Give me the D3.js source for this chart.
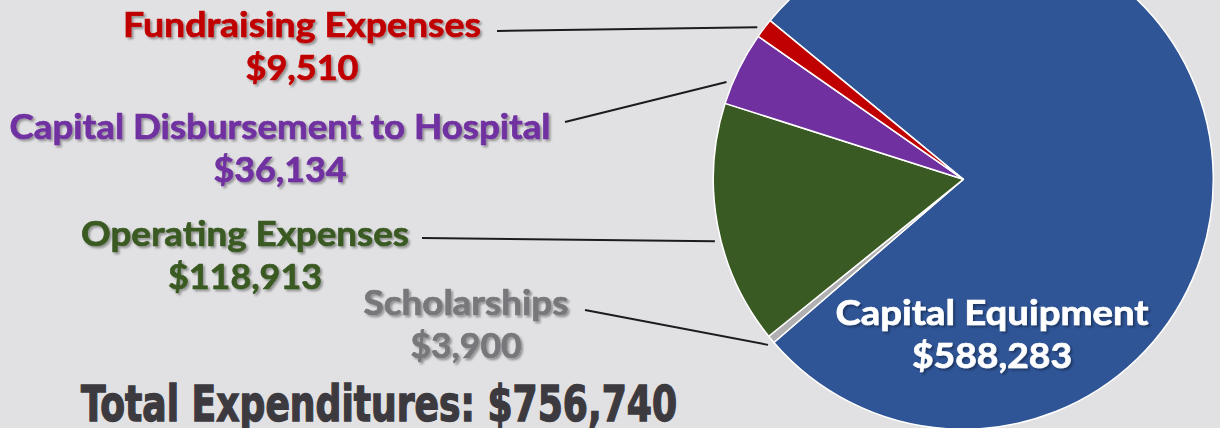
<!DOCTYPE html>
<html>
<head>
<meta charset="utf-8">
<script src="https://cdn.jsdelivr.net/npm/d3@7"></script>
<style>
  html, body { margin: 0; padding: 0; background: #e1e1e3; overflow: hidden; }
  svg { display: block; }
  .lbl { font-family: Lato, "Open Sans", sans-serif; font-weight: 700; }
</style>
</head>
<body>
<svg id="chart"></svg>
<script>
// data
const categories = ['Capital Equipment', 'Scholarships', 'Operating Expenses', 'Capital Disbursement to Hospital', 'Fundraising Expenses'];
const amounts = [588283, 3900, 118913, 36134, 9510];
const sliceColors = ['#2f5597', '#b0b0b2', '#3a5a24', '#7030a0', '#c00000'];
const labelColors = ['#ffffff', '#77777b', '#3a5a24', '#7030a0', '#c00000'];
const totalText = 'Total Expenditures: ';

const width = 1220;
const height = 428;
const cx = 963.3, cy = 179.3, radius = 250;
const startAngle = -50.6 * Math.PI / 180; // first slice angle

// label placement (centre x, first baseline, text widths, leader start, where the leader hits the slice)
const labelLayout = [
  { x: 992, y: 325, w: [313, 160], lead: null },
  { x: 466, y: 315, w: [205, 111], lead: [585, 310], tip: 0.24 },
  { x: 245, y: 246, w: [328, 154], lead: [422, 238], tip: 0.44 },
  { x: 280, y: 139, w: [541, 133], lead: [565, 122], tip: 0.27 },
  { x: 302, y: 37, w: [358, 113], lead: [497, 31], tip: 0.34 }
];

const fmt = d3.format('$,');
const svg = d3.select('#chart').attr('width', width).attr('height', height);

const defs = svg.append('defs');
defs.append('filter').attr('id', 'shadow')
  .attr('x', '-10%').attr('y', '-20%').attr('width', '120%').attr('height', '160%')
  .append('feDropShadow')
  .attr('dx', 2).attr('dy', 2).attr('stdDeviation', 1.3)
  .attr('flood-color', '#000').attr('flood-opacity', 0.35);

svg.append('rect').attr('width', width).attr('height', height).attr('fill', '#e1e1e3');

const color = d3.scaleOrdinal().domain(categories).range(sliceColors);
const pie = d3.pie().sort(null).value(d => d.value)
  .startAngle(startAngle).endAngle(startAngle + 2 * Math.PI);
const arcs = pie(categories.map((c, i) => ({ name: c, value: amounts[i], i: i })));
const arc = d3.arc().innerRadius(0).outerRadius(radius);

const g = svg.append('g').attr('transform', `translate(${cx},${cy})`);

g.selectAll('path.slice')
  .data(arcs)
  .enter()
  .append('path')
  .attr('class', 'slice')
  .attr('d', arc)
  .attr('fill', d => color(d.data.name))
  .attr('stroke', '#ffffff')
  .attr('stroke-width', 1.5)
  .attr('stroke-linejoin', 'round');

// leader lines
arcs.forEach(function (d, i) {
  const L = labelLayout[i];
  if (!L.lead) return;
  const a = d.startAngle + L.tip * (d.endAngle - d.startAngle);
  const r = 256;
  const ex = cx + r * Math.sin(a);
  const ey = cy - r * Math.cos(a);
  svg.append('line')
    .attr('x1', L.lead[0]).attr('y1', L.lead[1])
    .attr('x2', ex).attr('y2', ey)
    .attr('stroke', '#1c1c1c')
    .attr('stroke-width', 2);
});

// labels
arcs.forEach(function (d, i) {
  const L = labelLayout[i];
  const lines = [d.data.name, fmt(d.data.value)];
  lines.forEach(function (t, k) {
    svg.append('text')
      .attr('class', 'lbl')
      .attr('x', L.x)
      .attr('y', L.y + k * 43)
      .attr('text-anchor', 'middle')
      .attr('font-size', 35)
      .attr('fill', labelColors[i])
      .attr('stroke', labelColors[i])
      .attr('stroke-width', 0.7)
      .attr('filter', 'url(#shadow)')
      .attr('textLength', L.w[k])
      .attr('lengthAdjust', 'spacingAndGlyphs')
      .text(t);
  });
});

// total
svg.append('text')
  .attr('x', 81)
  .attr('y', 421)
  .attr('font-family', '"Liberation Sans Narrow", "DejaVu Sans Condensed", sans-serif')
  .attr('font-weight', 700)
  .attr('font-size', 50)
  .attr('fill', '#3c3a3f')
  .attr('stroke', '#3c3a3f')
  .attr('stroke-width', 1.4)
  .attr('textLength', 596)
  .attr('lengthAdjust', 'spacingAndGlyphs')
  .text(totalText + fmt(d3.sum(amounts)));
</script>
</body>
</html>
